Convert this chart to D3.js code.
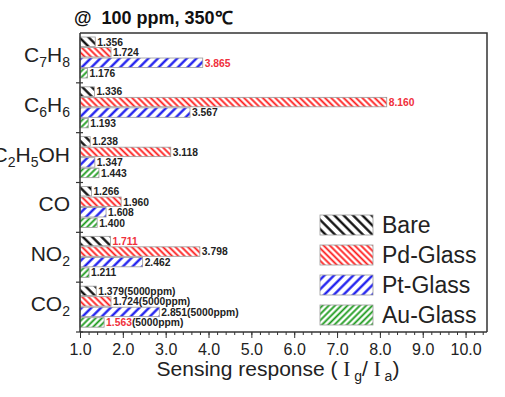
<!DOCTYPE html>
<html>
<head>
<meta charset="utf-8">
<script src="https://cdn.jsdelivr.net/npm/d3@7"></script>
<style>
	body { margin: 0; background: #fff; }
	text { font-family: Arial, "Liberation Sans", sans-serif; }
</style>
</head>
<body>
<div id="chart"></div>
<script>
/* 数据 */
let gases = ["C7H8", "C6H6", "C2H5OH", "CO", "NO2", "CO2"];
let gasParts = [
	[["C", 0], ["7", 1], ["H", 0], ["8", 1]],
	[["C", 0], ["6", 1], ["H", 0], ["6", 1]],
	[["C", 0], ["2", 1], ["H", 0], ["5", 1], ["OH", 0]],
	[["CO", 0]],
	[["NO", 0], ["2", 1]],
	[["CO", 0], ["2", 1]]
];
let seriesNames = ["Bare", "Pd-Glass", "Pt-Glass", "Au-Glass"];
let bareValues = [1.356, 1.336, 1.238, 1.266, 1.711, 1.379];
let pdValues = [1.724, 8.160, 3.118, 1.960, 3.798, 1.724];
let ptValues = [3.865, 3.567, 1.347, 1.608, 2.462, 2.851];
let auValues = [1.176, 1.193, 1.443, 1.400, 1.211, 1.563];
// 红色标注的数值 [系列, 气体]
let redLabels = [[2, 0], [1, 1], [0, 4], [3, 5]];
let labelSuffix = ["", "", "", "", "", "(5000ppm)"];
let xTicks = [1, 2, 3, 4, 5, 6, 7, 8, 9, 10];

let W = 505, H = 397;
let plot = {L: 80, R: 487, T: 33, B: 332};

let svg = d3.select("#chart").append("svg")
	.attr("width", W)
	.attr("height", H)
;

/* 填充图案 */
let defs = svg.append("defs");
let patterns = [
	{id: "p0", size: 6.6, dir: -1, color: "#000", w: 2.2, bg: "#fff"},
	{id: "p1", size: 4.4, dir: -1, color: "#ff1a1a", w: 1.8, bg: "#fff"},
	{id: "p2", size: 6.8, dir: 1, color: "#1010ee", w: 2.2, bg: "#fff"},
	{id: "p3", size: 4.4, dir: 1, color: "#1a9a1a", w: 1.8, bg: "#fff"}
];
patterns.forEach((p) => {
	let pat = defs.append("pattern")
		.attr("id", p.id)
		.attr("patternUnits", "userSpaceOnUse")
		.attr("width", p.size)
		.attr("height", p.size)
		.attr("patternTransform", `rotate(${p.dir * 45})`)
	;
	pat.append("rect")
		.attr("width", p.size)
		.attr("height", p.size)
		.attr("fill", p.bg)
	;
	pat.append("line")
		.attr("x1", p.size / 2).attr("y1", 0)
		.attr("x2", p.size / 2).attr("y2", p.size)
		.attr("stroke", p.color)
		.attr("stroke-width", p.w)
	;
});

/* 比例尺 */
let x = d3.scaleLinear().domain([1, 10.5]).range([plot.L, plot.R]);
let y = d3.scaleBand().domain(gases).range([plot.T, plot.B]);
let ySub = d3.scaleBand().domain(seriesNames).range([4, 45]).paddingInner(0.1);

let allValues = [bareValues, pdValues, ptValues, auValues];
let barData = [];
gases.forEach((g, gi) => {
	seriesNames.forEach((s, si) => {
		barData.push({
			gas: g, gi: gi, series: s, si: si, value: allValues[si][gi],
			red: redLabels.some((r) => r[0] === si && r[1] === gi)
		});
	});
});

/* 柱子 */
svg.append("g").selectAll("rect")
	.data(barData)
	.join("rect")
	.attr("x", x(1))
	.attr("y", (d) => y(d.gas) + ySub(d.series))
	.attr("width", (d) => x(d.value) - x(1))
	.attr("height", ySub.bandwidth())
	.attr("fill", (d) => `url(#p${d.si})`)
	.attr("stroke", "#999")
	.attr("stroke-width", 0.8)
;

/* 数值标注 */
let lbl = svg.append("g").selectAll("text")
	.data(barData)
	.join("text")
	.attr("x", (d) => x(d.value) + 2)
	.attr("y", (d) => y(d.gas) + ySub(d.series) + ySub.bandwidth() / 2 + 3.8)
	.attr("font-size", 10.3)
	.attr("font-weight", "bold")
;
lbl.append("tspan")
	.attr("fill", (d) => d.red ? "#f0303c" : "#222")
	.text((d) => d.value.toFixed(3))
;
lbl.append("tspan")
	.attr("fill", "#222")
	.text((d) => labelSuffix[d.gi])
;

/* 框线 */
svg.append("path")
	.attr("d", `M${plot.L},${plot.T}H${plot.R}V${plot.B}`)
	.attr("fill", "none")
	.attr("stroke", "#333")
	.attr("stroke-width", 1.5)
;

/* x 轴 */
let xAxis = svg.append("g")
	.attr("transform", `translate(0,${plot.B})`)
;
xAxis.call(d3.axisBottom(x).tickValues(d3.range(1, 10.51, 0.2)).tickSize(3).tickFormat(""))
	.call((g) => g.select(".domain").remove())
;
xAxis.append("g")
	.call(d3.axisBottom(x).tickValues(xTicks).tickSize(6).tickFormat(d3.format(".1f")))
	.call((g) => g.select(".domain").remove())
	.selectAll("text")
	.attr("font-size", 16)
	.attr("font-family", "Arial, 'Liberation Sans', sans-serif")
	.attr("fill", "#222")
	.attr("dy", "0.85em")
;
xAxis.selectAll("line").attr("stroke", "#333");
svg.append("line")
	.attr("x1", plot.L).attr("x2", plot.R)
	.attr("y1", plot.B).attr("y2", plot.B)
	.attr("stroke", "#333")
	.attr("stroke-width", 1.5)
;

/* y 轴 */
let yAxis = svg.append("g");
yAxis.append("line")
	.attr("x1", plot.L).attr("x2", plot.L)
	.attr("y1", plot.T).attr("y2", plot.B)
	.attr("stroke", "#333")
	.attr("stroke-width", 1.5)
;
yAxis.selectAll(".tk")
	.data(gases.slice(1).map((g) => y(g)).concat([plot.B]))
	.join("line")
	.attr("class", "tk")
	.attr("x1", plot.L - 4).attr("x2", plot.L + 3)
	.attr("y1", (d) => d).attr("y2", (d) => d)
	.attr("stroke", "#333")
	.attr("stroke-width", 1.2)
;
let yl = yAxis.selectAll(".gl")
	.data(gases)
	.join("text")
	.attr("class", "gl")
	.attr("x", 70)
	.attr("y", (d) => y(d) + y.bandwidth() / 2 + 4)
	.attr("text-anchor", "end")
	.attr("font-size", 21)
	.attr("fill", "#222")
;
yl.each(function(d, i) {
	let t = d3.select(this);
	gasParts[i].forEach((p, k) => {
		t.append("tspan")
			.attr("font-size", p[1] ? 14 : 21)
			.attr("dy", p[1] ? 5 : (k > 0 && gasParts[i][k - 1][1] ? -5 : 0))
			.text(p[0])
		;
	});
});

/* 标题 */
svg.append("text")
	.attr("x", 74)
	.attr("y", 24)
	.attr("font-size", 18)
	.attr("font-weight", "bold")
	.attr("fill", "#111")
	.text("@\u00a0 100 ppm, 350℃")
;

/* x 轴标题 */
let xt = svg.append("text")
	.attr("x", 278)
	.attr("y", 376)
	.attr("text-anchor", "middle")
	.attr("font-size", 21)
	.attr("fill", "#222")
;
xt.append("tspan").text("Sensing response ( ");
xt.append("tspan").attr("font-family", "'Liberation Serif', serif").text("I");
xt.append("tspan").attr("font-size", 14).attr("dy", 5).text(" g");
xt.append("tspan").attr("dy", -5).text("/ ");
xt.append("tspan").attr("font-family", "'Liberation Serif', serif").text("I");
xt.append("tspan").attr("font-size", 14).attr("dy", 5).text(" a");
xt.append("tspan").attr("dy", -5).text(")");

/* 图例 */
let legend = svg.append("g").selectAll("g")
	.data(seriesNames)
	.join("g")
	.attr("transform", (d, i) => `translate(320,${215 + i * 30})`)
;
legend.append("rect")
	.attr("width", 53)
	.attr("height", 20)
	.attr("fill", (d, i) => `url(#p${i})`)
	.attr("stroke", "#999")
	.attr("stroke-width", 0.8)
;
legend.append("text")
	.attr("x", 62)
	.attr("y", 18)
	.attr("font-size", 23)
	.attr("fill", "#222")
	.text((d) => d)
;
</script>
</body>
</html>
